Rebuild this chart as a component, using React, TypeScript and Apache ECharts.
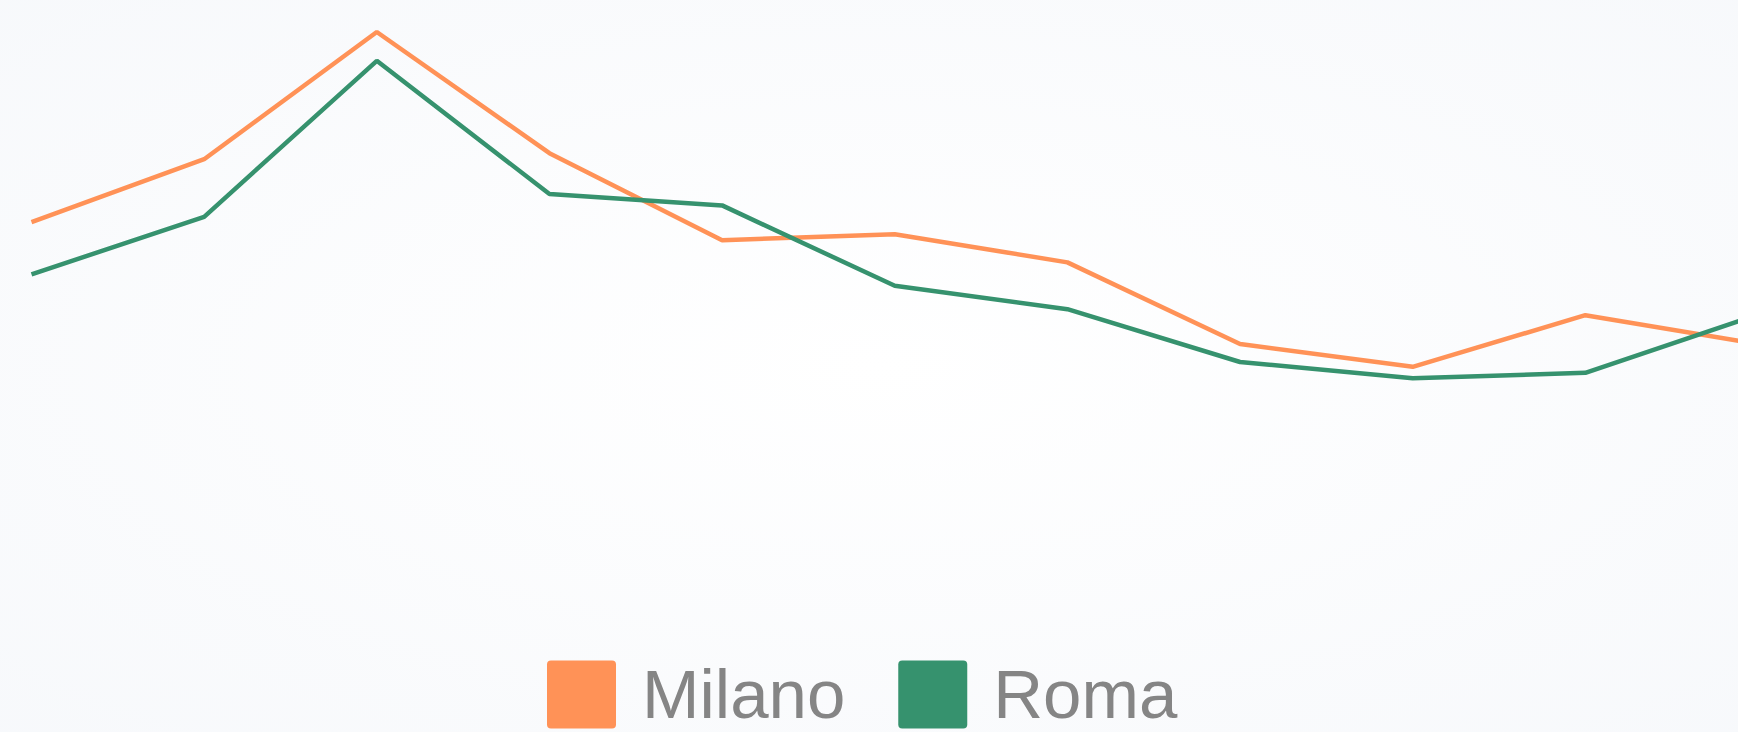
import React, { useEffect, useRef } from "react";
import * as echarts from "echarts";

const categories = ["2014", "2015", "2016", "2017", "2018", "2019", "2020", "2021", "2022", "2023", "2024"];
const milano = [66.3, 76.8, 98.0, 77.8, 63.3, 64.3, 59.6, 46.0, 42.2, 50.8, 46.0];
const roma = [57.6, 67.2, 93.2, 71.0, 69.1, 55.7, 51.8, 43.0, 40.3, 41.2, 50.9];
const seriesNames = ["Milano", "Roma"];
const colors = ["#FF9257", "#36926E"];

const iconPath =
  "path://M4,0 H65 A4,4 0 0 1 69,4 V64 A4,4 0 0 1 65,68 H4 A4,4 0 0 1 0,64 V4 A4,4 0 0 1 4,0 Z";

export default function App() {
  const ref = useRef<HTMLDivElement>(null);

  useEffect(() => {
    if (!ref.current) return;
    const chart = echarts.init(ref.current, undefined, { renderer: "svg" });
    chart.setOption({
      animation: false,
      backgroundColor: {
        type: "radial",
        x: 0.5,
        y: 0.5,
        r: 0.8,
        colorStops: [
          { offset: 0, color: "#FFFFFF" },
          { offset: 1, color: "#F6F8FB" },
        ],
      },
      grid: { left: 31.5, top: 20, right: 0, height: 600 },
      xAxis: {
        type: "category",
        data: categories,
        boundaryGap: false,
        show: false,
      },
      yAxis: {
        type: "value",
        min: 0,
        max: 100,
        show: false,
        splitLine: { show: false },
      },
      legend: {
        data: seriesNames,
        left: 547,
        top: 660,
        padding: 0,
        itemWidth: 69,
        itemHeight: 68,
        itemGap: 53,
        icon: iconPath,
        textStyle: {
          fontSize: 69,
          lineHeight: 58,
          color: "#858585",
          fontFamily: "'Liberation Sans', Arial, sans-serif",
          padding: [0, 0, 0, 21],
        },
      },
      series: [
        {
          name: seriesNames[0],
          type: "line",
          data: milano,
          symbol: "none",
          color: colors[0],
          lineStyle: { width: 4.5, color: colors[0] },
        },
        {
          name: seriesNames[1],
          type: "line",
          data: roma,
          symbol: "none",
          color: colors[1],
          lineStyle: { width: 4.5, color: colors[1] },
        },
      ],
    });
    return () => chart.dispose();
  }, []);

  return (
    <div
      ref={ref}
      style={{ position: "fixed", left: 0, top: 0, width: 1758, height: 732 }}
    />
  );
}
